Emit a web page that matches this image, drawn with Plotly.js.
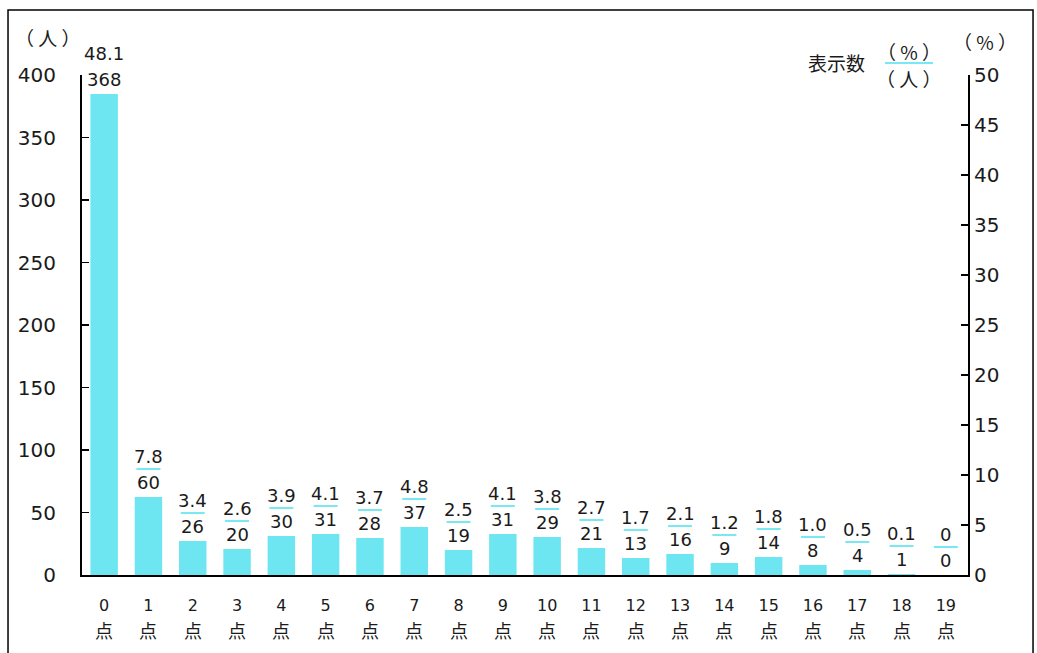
<!DOCTYPE html>
<html>
<head>
<meta charset="utf-8">
<script src="https://cdn.plot.ly/plotly-3.0.1.min.js"></script>
<style>html,body{margin:0;padding:0;background:#fff;} #chart{width:1037px;height:653px;}</style>
</head>
<body>
<div id="chart"></div>
<script>
// Data
const scores = ["0","1","2","3","4","5","6","7","8","9","10","11","12","13","14","15","16","17","18","19"];
const counts = [368,60,26,20,30,31,28,37,19,31,29,21,13,16,9,14,8,4,1,0];
const percents = [48.1,7.8,3.4,2.6,3.9,4.1,3.7,4.8,2.5,4.1,3.8,2.7,1.7,2.1,1.2,1.8,1.0,0.5,0.1,0];
const percentLabels = ["48.1","7.8","3.4","2.6","3.9","4.1","3.7","4.8","2.5","4.1","3.8","2.7","1.7","2.1","1.2","1.8","1.0","0.5","0.1","0"];
const leftTicks = [0,50,100,150,200,250,300,350,400];
const rightTicks = [0,5,10,15,20,25,30,35,40,45,50];

const NUM = '"DejaVu Sans", "Noto Sans CJK JP", sans-serif';
const CJK = '"Noto Sans CJK JP", "Noto Sans", sans-serif';
const TXT = '#1a1a1a';
const BAR = 'rgb(110,230,242)';
const LINE = 'rgb(120,232,242)';

const xIdx = scores.map((s,i)=>i);

const trace = {
  type: 'bar', x: xIdx, y: percents, yaxis: 'y2',
  marker: {color: BAR, line: {width: 0}}, width: 0.62, hoverinfo: 'skip'
};
const dummy = {type:'scatter', x:[0], y:[0], yaxis:'y', mode:'markers', marker:{opacity:0}, hoverinfo:'skip', showlegend:false};

const annotations = [];
const shapes = [];
xIdx.forEach(i => {
  annotations.push({x: i, y: percents[i], xref: 'x', yref: 'y2', text: percentLabels[i],
    showarrow: false, yanchor: 'middle', yshift: 41, font: {family: NUM, size: 18, color: TXT}});
  annotations.push({x: i, y: percents[i], xref: 'x', yref: 'y2', text: String(counts[i]),
    showarrow: false, yanchor: 'middle', yshift: 15, font: {family: NUM, size: 18, color: TXT}});
  const hw = percentLabels[i].length >= 4 ? 24 : 12;
  shapes.push({type: 'line', xref: 'x', yref: 'y2', xsizemode: 'pixel', ysizemode: 'pixel',
    xanchor: i, yanchor: percents[i], x0: -hw, x1: hw, y0: 28, y1: 28,
    line: {color: LINE, width: 2}});
  // second line of the x tick label
  annotations.push({x: i, y: 0, xref: 'x', yref: 'paper', text: '点', showarrow: false,
    yanchor: 'middle', yshift: -55, font: {family: CJK, size: 18, color: TXT}});
});

// unit labels and legend
const pa = (x, y, text, size) => ({xref:'paper', yref:'paper', x:x, y:y, xanchor:'center', yanchor:'middle',
  text:text, showarrow:false, font:{family:CJK, size:size, color:TXT}});
annotations.push(pa(-0.0384, 1.074, '（ 人 ）', 19));
annotations.push(pa(1.019, 1.066, '（ % ）', 19));
annotations.push(pa(0.852, 1.024, '表示数', 19));
annotations.push(pa(0.9334, 1.046, '（ % ）', 19));
annotations.push(pa(0.9334, 0.994, '（ 人 ）', 19));
shapes.push({type:'line', xref:'paper', yref:'paper', x0:0.9063, x1:0.9605, y0:1.024, y1:1.024, line:{color:LINE,width:2}});
// outer frame
shapes.push({type:'rect', xref:'paper', yref:'paper', x0:-0.0835, x1:1.0734, y0:-0.2, y1:1.13, line:{color:'#000',width:1.5}, fillcolor:'rgba(0,0,0,0)', layer:'below'});

const layout = {
  width: 1037, height: 653,
  margin: {l: 82, r: 69, t: 75, b: 78, pad: 0},
  paper_bgcolor: '#fff', plot_bgcolor: '#fff',
  showlegend: false,
  xaxis: {
    range: [-0.5, 19.5], tickvals: xIdx, ticktext: scores,
    showline: true, linecolor: '#000', linewidth: 2, ticks: '', showgrid: false, zeroline: false,
    tickfont: {family: NUM, size: 16, color: TXT}, ticklabelstandoff: 15, fixedrange: true
  },
  yaxis: {
    range: [0, 400], tickvals: leftTicks, showline: true, linecolor: '#000', linewidth: 2,
    ticks: 'inside', ticklen: 7, tickwidth: 1.5, tickcolor: '#000', showgrid: false, zeroline: false,
    tickfont: {family: NUM, size: 20, color: TXT}, ticklabelstandoff: 20
  },
  yaxis2: {
    range: [0, 50], tickvals: rightTicks, overlaying: 'y', side: 'right', showline: true, linecolor: '#000', linewidth: 2,
    ticks: 'inside', ticklen: 7, tickwidth: 1.5, tickcolor: '#000', showgrid: false, zeroline: false,
    tickfont: {family: NUM, size: 20, color: TXT}, ticklabelstandoff: 0
  },
  annotations: annotations,
  shapes: shapes
};

Plotly.newPlot('chart', [trace, dummy], layout, {displayModeBar: false, staticPlot: true});
</script>
</body>
</html>
